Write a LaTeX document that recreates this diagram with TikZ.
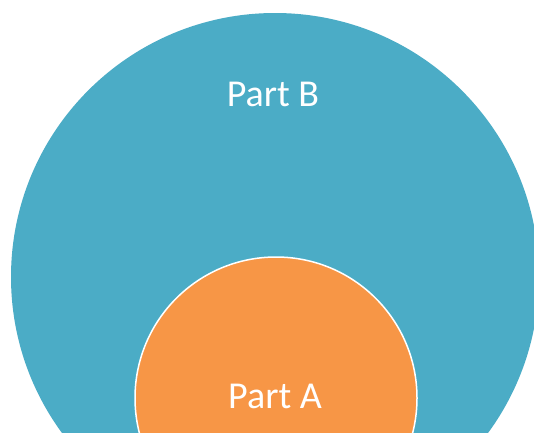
\documentclass[tikz,border=0pt]{standalone}
\usepackage{fontspec}
\setmainfont{Carlito}
\definecolor{teal5}{HTML}{4BACC6}
\definecolor{orng6}{HTML}{F79646}
\begin{document}
\begin{tikzpicture}[x=1pt,y=-1pt,
  lbl/.style={text=white,font=\fontsize{38}{42}\selectfont,anchor=base,inner sep=0pt}]
\useasboundingbox (0,0) rectangle (534,432);
\clip (0,0) rectangle (534,432);
\fill[white] (0,0) rectangle (534,432);
\fill[teal5] (275,277) circle[radius=264];
\filldraw[fill=orng6,draw=white,line width=1.5pt] (276,398) circle[radius=141];
\node[lbl] (b) at (273,106) {Part B};
\node[lbl] (a) at (275,408) {Part A};
\end{tikzpicture}
\end{document}
